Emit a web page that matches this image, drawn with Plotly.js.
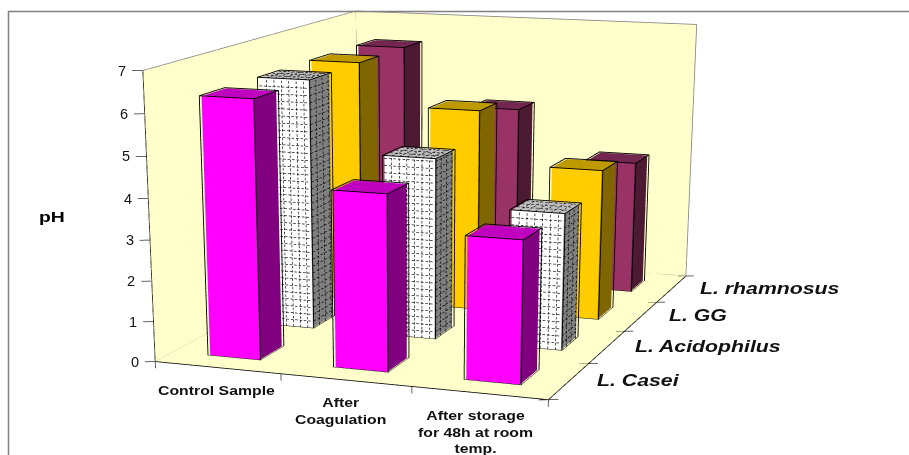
<!DOCTYPE html>
<html><head><meta charset="utf-8">
<script src="https://cdn.plot.ly/plotly-3.0.1.min.js"></script>
<style>
html,body{margin:0;background:#fff}
#stage{position:relative;width:909px;height:455px;overflow:hidden}
#g{position:absolute}
/* Wide, slightly stretched lettering for the axis captions */
text.annotation-text{transform-box:fill-box}
text.annotation-text[data-unformatted^="L."]{transform-origin:0 50%;transform:scaleX(1.33)}
text.annotation-text[data-unformatted*="Sample"],
text.annotation-text[data-unformatted*="After"]{transform-origin:50% 50%;transform:scaleX(1.265)}
text.annotation-text[data-unformatted="pH"]{transform-origin:50% 50%;transform:scaleX(1.25)}
</style>
</head><body><div id="stage"><div id="g"></div></div>
<script>
// pH of each culture at each stage of the fermented product
const stages = ['Control Sample', 'After<br>Coagulation', 'After storage<br>for 48h at room<br>temp.'];
const cultures = ['L. Casei', 'L. Acidophilus', 'L. GG', 'L. rhamnosus'];
const caseiPH = [6.32, 4.29, 3.44];
const acidophilusPH = [6.32, 4.56, 3.42];
const ggPH = [6.33, 5.25, 3.90];
const rhamnosusPH = [6.33, 4.80, 3.53];
const phTicks = [0, 1, 2, 3, 4, 5, 6, 7];

const cultureValues = [caseiPH, acidophilusPH, ggPH, rhamnosusPH];
const frontColors = ['#ff00ff', '#ffffff', '#ffcc00', '#993366'];
const sideColors = ['#800080', '#808080', '#806600', '#4d1a33'];
const topColors = ['#bf00bf', '#c0c0c0', '#bf9900', '#732650'];
const WALL = '#ffffcc', EDGE = '#808080', INK = '#000000';
const BAR = 0.4, EPS = 0.012;
const nx = stages.length, ny = cultures.length, nz = 7;

// The scene is laid out larger than the window and off-centre: plotly's field of view
// is fixed, so a bigger canvas gives the long, shifted lens of this chart.
const ZOOM = 4, W = 909 * ZOOM, H = 455 * ZOOM, LEFT = -1401, TOP = -346;
const gd = document.getElementById('g');
gd.style.left = LEFT + 'px'; gd.style.top = TOP + 'px';
gd.style.width = W + 'px'; gd.style.height = H + 'px';
const paperX = px => (px - LEFT) / W, paperY = py => 1 - (py - TOP) / H;

const flat = {ambient: 1, diffuse: 0, specular: 0, fresnel: 0, roughness: 1};

function quadMesh(quads, colors) {
  const x = [], y = [], z = [], i = [], j = [], k = [], facecolor = [];
  quads.forEach((q, n) => {
    const b = x.length;
    q.forEach(v => { x.push(v[0]); y.push(v[1]); z.push(v[2]); });
    i.push(b, b); j.push(b + 1, b + 2); k.push(b + 2, b + 3);
    facecolor.push(colors[n], colors[n]);
  });
  return {type: 'mesh3d', x, y, z, i, j, k, facecolor, flatshading: true, lighting: flat, showscale: false, hoverinfo: 'skip'};
}
function lines(segs, color, width) {
  const x = [], y = [], z = [];
  segs.forEach(s => { s.forEach(v => { x.push(v[0]); y.push(v[1]); z.push(v[2]); }); x.push(NaN); y.push(NaN); z.push(NaN); });
  return {type: 'scatter3d', mode: 'lines', x, y, z, line: {color, width}, hoverinfo: 'skip', showlegend: false, connectgaps: false};
}

const traces = [];
// walls and floor
traces.push(quadMesh([
  [[0, ny, 0], [nx, ny, 0], [nx, ny, nz], [0, ny, nz]],
  [[0, 0, 0], [0, ny, 0], [0, ny, nz], [0, 0, nz]],
  [[0, 0, 0], [nx, 0, 0], [nx, ny, 0], [0, ny, 0]]
], [WALL, WALL, WALL]));
traces.push(lines([
  [[0, 0, nz], [0, ny, nz], [nx, ny, nz], [nx, ny, 0], [0, ny, 0], [0, 0, 0]],
  [[0, ny, 0], [0, ny, nz]]
], EDGE, 1.6));
traces.push(lines([[[0, 0, nz], [0, 0, 0], [nx, 0, 0], [nx, ny, 0]]], INK, 1.6));

// tick marks on the three axes
const tickSegs = [];
phTicks.forEach(t => tickSegs.push([[0, 0, t], [-0.068, -0.031, t]]));
for (let c = 0; c <= nx; c++) tickSegs.push([[c, 0, 0], [c, 0, -0.17]]);
for (let s = 0; s <= ny; s++) tickSegs.push([[nx - 0.062, s - 0.028, 0], [nx + 0.062, s + 0.028, 0]]);
traces.push(lines(tickSegs, '#333333', 1.5));

// bars
cultureValues.forEach((vals, s) => {
  const quads = [], cols = [], edges = [], pattern = [];
  vals.forEach((v, c) => {
    const x0 = c + 0.5 - BAR / 2, x1 = x0 + BAR, y0 = s + 0.5 - BAR / 2, y1 = y0 + BAR;
    quads.push([[x0, y0, 0], [x1, y0, 0], [x1, y0, v], [x0, y0, v]]); cols.push(frontColors[s]);
    quads.push([[x1, y0, 0], [x1, y1, 0], [x1, y1, v], [x1, y0, v]]); cols.push(sideColors[s]);
    quads.push([[x0, y0, v], [x1, y0, v], [x1, y1, v], [x0, y1, v]]); cols.push(topColors[s]);
    const e = EPS, X0 = x0 - e, X1 = x1 + e, Y0 = y0 - e, Y1 = y1 + e, V = v + e;
    edges.push(
      [[X0, Y0, 0], [X0, Y0, V], [X1, Y0, V], [X1, Y0, 0], [X0, Y0, 0]],
      [[X1, Y0, 0], [X1, Y1, 0], [X1, Y1, V], [X1, Y0, V]],
      [[X0, Y0, V], [X0, Y1, V], [X1, Y1, V]]
    );
    if (s === 1) {
      // dashed lattice on the three visible faces of the patterned series
      const dash = (a, b) => {
        const len = Math.hypot((a[0] - b[0]) * 130, (a[1] - b[1]) * 60, (a[2] - b[2]) * 41);
        const n = Math.floor(len / 4.4);
        for (let d = 0; d < n; d++) {
          const u = d / n, w = (d + 0.6) / n;
          pattern.push([a.map((q, m) => q + (b[m] - q) * u), a.map((q, m) => q + (b[m] - q) * w)]);
        }
      };
      const e2 = EPS * 0.5, FY = y0 - e2, SX = x1 + e2, TZ = v + e2;
      for (let a = x0 + 0.06; a < x1 - 0.02; a += 0.06) { dash([a, FY, 0], [a, FY, v]); dash([a, y0, TZ], [a, y1, TZ]); }
      for (let b = y0 + 0.12; b < y1 - 0.02; b += 0.12) { dash([SX, b, 0], [SX, b, v]); dash([x0, b, TZ], [x1, b, TZ]); }
      for (let h = 0.18; h < v - 0.03; h += 0.18) { dash([x0, FY, h], [x1, FY, h]); dash([SX, y0, h], [SX, y1, h]); }
    }
  });
  traces.push(quadMesh(quads, cols));
  if (pattern.length) traces.push(lines(pattern, '#000000', 1.3));
  traces.push(lines(edges, INK, 1.8));
});

// axis labels are placed from the same data coordinates as the marks
const sceneLabels = [];
phTicks.forEach(t => sceneLabels.push({x: 0, y: 0, z: t, text: String(t), showarrow: false,
  xanchor: 'right', xshift: -14.5, font: {family: 'Liberation Sans, Arial', size: 14.5, color: '#111'}}));
const stageShift = [[-1, -23], [-5, -31], [-4, -39]];
stages.forEach((t, c) => sceneLabels.push({x: c + 0.5, y: 0, z: 0, text: t,
  showarrow: false, xanchor: 'center', yanchor: 'middle', xshift: stageShift[c][0], yshift: stageShift[c][1], align: 'center',
  font: {family: 'Liberation Sans, Arial', size: 12.5, weight: 'bold', color: '#111'}}));
cultures.forEach((t, s) => sceneLabels.push({x: nx, y: s + 0.5, z: 0, text: t, showarrow: false,
  xanchor: 'left', yanchor: 'middle', xshift: 26, yshift: 0,
  font: {family: 'Liberation Sans, Arial', size: 16, weight: 'bold', style: 'italic', color: '#111'}}));

const layout = {
  width: W, height: H, margin: {l: 0, r: 0, t: 0, b: 0}, paper_bgcolor: '#ffffff', showlegend: false,
  shapes: [
    {type: 'line', xref: 'paper', yref: 'paper', x0: paperX(8), x1: paperX(909), y0: paperY(11.5), y1: paperY(11.5), line: {color: '#808080', width: 1.5}},
    {type: 'line', xref: 'paper', yref: 'paper', x0: paperX(8.5), x1: paperX(8.5), y0: paperY(11), y1: paperY(455), line: {color: '#808080', width: 1.5}}
  ],
  annotations: [{xref: 'paper', yref: 'paper', x: paperX(52), y: paperY(217), xanchor: 'center', yanchor: 'middle', text: 'pH', showarrow: false,
    font: {family: 'Liberation Sans, Arial', size: 15.5, weight: 'bold', color: '#000'}}],
  scene: {
    domain: {x: [0, 1], y: [0, 1]}, aspectmode: 'manual', annotations: sceneLabels,
    aspectratio: {x: 1.2, y: 1.2 * 1.3630, z: 1.2 * 0.6990},
    camera: {eye: {x: 1.8687, y: -5.3587, z: 1.0337}, center: {x: 0.2058, y: -0.7546, z: -0.7626}, up: {x: 0.0046, y: -0.0160, z: 1}},
    xaxis: {range: [-0.1 * nx, 1.1 * nx], visible: false},
    yaxis: {range: [-0.1 * ny, 1.1 * ny], visible: false},
    zaxis: {range: [-0.1 * nz, 1.1 * nz], visible: false}
  }
};
Plotly.newPlot(gd, traces, layout, {displayModeBar: false, responsive: false});
</script></body></html>
